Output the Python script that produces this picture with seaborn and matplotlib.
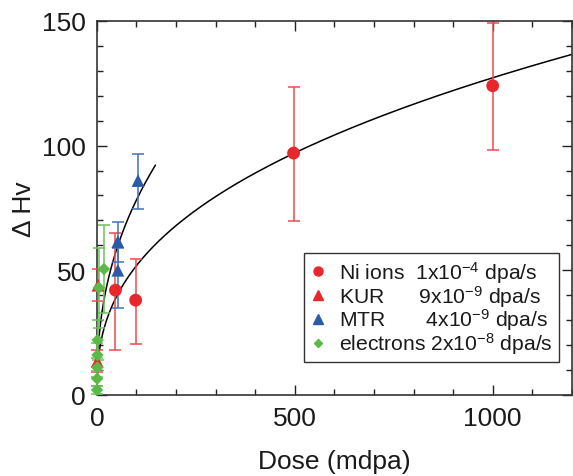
import numpy as np
import pandas as pd
import matplotlib
matplotlib.use("Agg")
import matplotlib.pyplot as plt
from matplotlib.lines import Line2D
from matplotlib.ticker import MultipleLocator
import seaborn as sns

# Ni ions 1x10^-4 dpa/s
ni_dose = [47, 98, 497, 1000]
ni_hv = [42, 38, 97, 124]
ni_lo = [24, 17.5, 27.4, 25.6]
ni_hi = [23, 16.6, 26.5, 25.2]

# KUR 9x10^-9 dpa/s
kur_dose = [1, 3]
kur_hv = [13.5, 44]
kur_err = [4.5, 6.5]

# MTR 4x10^-9 dpa/s
mtr_dose = [53, 53, 104]
mtr_hv = [50, 61.5, 86]
mtr_lo = [15, 8, 11.4]
mtr_hi = [9, 8, 10.7]

# electrons 2x10^-8 dpa/s
el_dose = [0.5, 0.8, 1.2, 1.6, 2, 5, 18]
el_hv = [2, 6.5, 11, 16, 22, 43, 50.5]
el_err = [1.5, 3, 4, 5, 8, 16, 17.5]

# power-law fits  dHv = A * dose^n
fit_ni = dict(A=8.6, n=0.39, xmax=1200)
fit_low = dict(A=11.3, n=0.42, xmax=148)

legend_labels = [
    r"Ni ions  1x10$^{-4}$ dpa/s",
    r"KUR      9x10$^{-9}$ dpa/s",
    r"MTR       4x10$^{-9}$ dpa/s",
    r"electrons 2x10$^{-8}$ dpa/s",
]

red = "#E8272C"
blue = "#2B5BA8"
green = "#5BBA47"

sns.set_theme(style="ticks")
plt.rcParams["font.family"] = ["Liberation Sans", "DejaVu Sans"]
plt.rcParams["mathtext.fontset"] = "custom"
plt.rcParams["mathtext.rm"] = "Liberation Sans"
plt.rcParams["mathtext.it"] = "Liberation Sans"

fig = plt.figure(figsize=(5.73, 4.77), dpi=100)
ax = fig.add_axes([0.169, 0.170, 0.829, 0.784])

# fit curves
for f in (fit_low, fit_ni):
    xs = np.linspace(0, f["xmax"], 400)
    curve = pd.DataFrame({"dose": xs, "hv": f["A"] * xs ** f["n"]})
    sns.lineplot(data=curve, x="dose", y="hv", color="black", lw=1.1, ax=ax, zorder=2)

ebkw = dict(fmt="none", elinewidth=1.1, capsize=4.5, capthick=1.1, zorder=3, clip_on=False)
ax.errorbar(ni_dose, ni_hv, yerr=[ni_lo, ni_hi], ecolor="#EE4A4E", **ebkw)
ax.errorbar(kur_dose, kur_hv, yerr=kur_err, ecolor="#EE4A4E", **ebkw)
ax.errorbar(mtr_dose, mtr_hv, yerr=[mtr_lo, mtr_hi], ecolor="#4570B8", **ebkw)
ax.errorbar(el_dose, el_hv, yerr=el_err, ecolor="#6CC258", **ebkw)

skw = dict(ax=ax, edgecolor="none", legend=False, zorder=4, clip_on=False)
sns.scatterplot(x=ni_dose, y=ni_hv, marker="o", s=85, color=red, **skw)
sns.scatterplot(x=kur_dose, y=kur_hv, marker="^", s=85, color=red, **skw)
sns.scatterplot(x=mtr_dose, y=mtr_hv, marker="^", s=85, color=blue, **skw)
sns.scatterplot(x=el_dose, y=el_hv, marker="D", s=40, color=green, **skw)

ax.set_xlim(0, 1200)
ax.set_ylim(0, 150)
ax.xaxis.set_major_locator(MultipleLocator(500))
ax.xaxis.set_minor_locator(MultipleLocator(100))
ax.yaxis.set_major_locator(MultipleLocator(50))
ax.yaxis.set_minor_locator(MultipleLocator(10))
ax.tick_params(which="both", direction="in", top=True, right=True, color="#222222",
               width=1.0, labelsize=19, labelcolor="#1a1a1a")
ax.tick_params(which="major", length=7, pad=8)
ax.tick_params(which="minor", length=4)
for s in ax.spines.values():
    s.set_linewidth(1.2)
    s.set_color("#333333")

ax.set_xlabel("Dose (mdpa)", fontsize=19, color="#1a1a1a", labelpad=14)
ax.set_ylabel("Δ Hv", fontsize=19, color="#1a1a1a", labelpad=4)

handles = [
    Line2D([], [], ls="none", marker="o", ms=6.5, color=red),
    Line2D([], [], ls="none", marker="^", ms=6.5, color=red),
    Line2D([], [], ls="none", marker="^", ms=6.5, color=blue),
    Line2D([], [], ls="none", marker="D", ms=4.5, color=green),
]
leg = ax.legend(handles, legend_labels, loc="lower right", bbox_to_anchor=(0.973, 0.088),
                fontsize=15.2, frameon=True, fancybox=False, framealpha=1,
                edgecolor="#333333", handlelength=0.8, handletextpad=0.6,
                labelspacing=-0.1, borderpad=0.28, borderaxespad=0)
leg.get_frame().set_linewidth(1.0)
for t in leg.get_texts():
    t.set_color("#1a1a1a")

fig.savefig("out.png", dpi=100)
